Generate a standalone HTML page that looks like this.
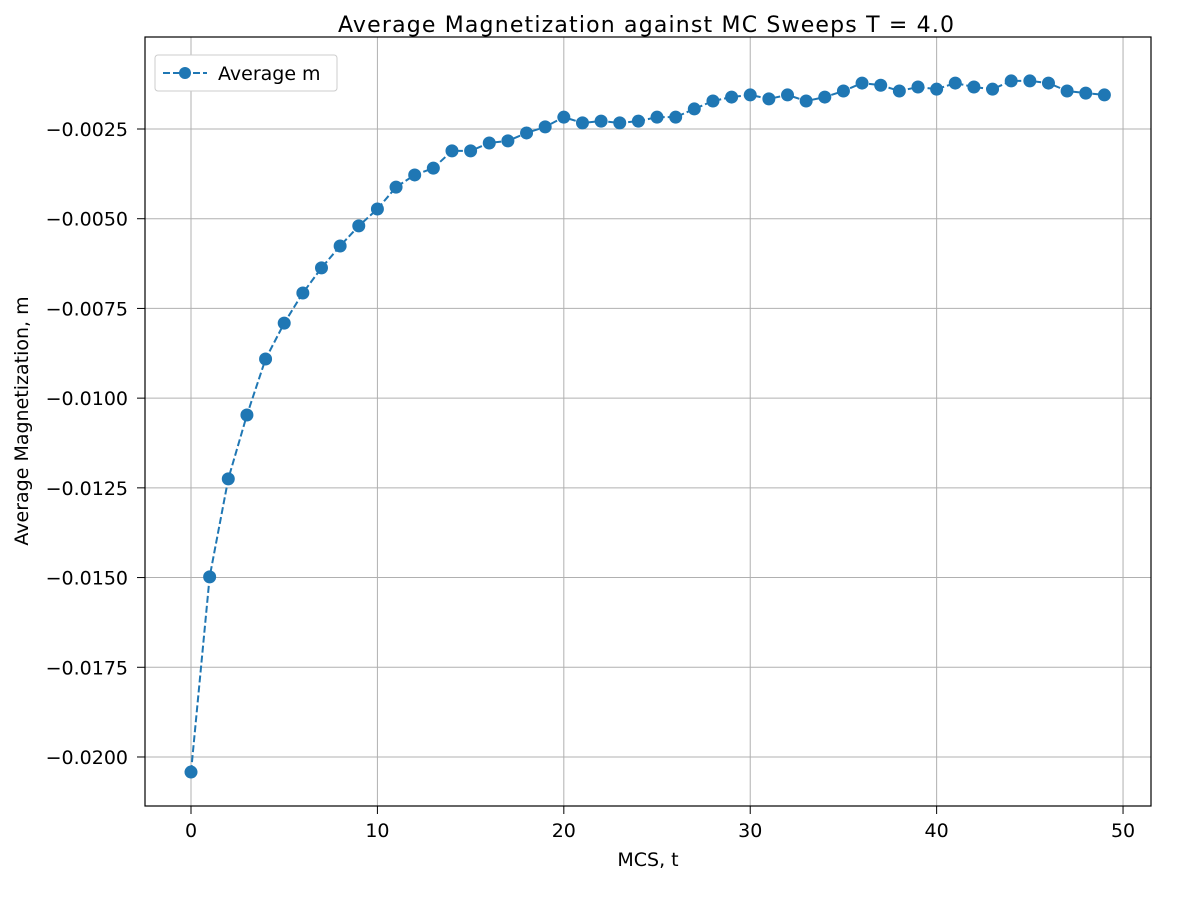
<!DOCTYPE html>
<html><head><meta charset="utf-8"><style>
body{margin:0;background:#fff;}
svg text{font-family:"DejaVu Sans","Liberation Sans",sans-serif;fill:#000;}
</style></head><body>
<svg id="chart" width="1184" height="894">
<text x="646" y="32" font-size="22" text-anchor="middle" textLength="616">Average Magnetization against MC Sweeps T = 4.0</text>
<g id="grid"></g><g id="axes"></g><g id="series"></g>
<rect x="145" y="37" width="1006" height="769" fill="none" stroke="#000" stroke-width="1.2"/>
<text x="648" y="866" font-size="19" text-anchor="middle">MCS, t</text>
<text transform="translate(28,421) rotate(-90)" font-size="19" text-anchor="middle">Average Magnetization, m</text>
<g>
<rect x="155" y="55" width="182" height="36" rx="3" fill="#fff" stroke="#ccc"/>
<line x1="163" y1="73" x2="207" y2="73" stroke="#1f77b4" stroke-width="2" stroke-dasharray="7,3"/>
<circle cx="185" cy="73" r="6" fill="#1f77b4"/>
<text x="218" y="80" font-size="19">Average m</text>
</g>
</svg>
<script>
const xs=[0,1,2,3,4,5,6,7,8,9,10,11,12,13,14,15,16,17,18,19,20,21,22,23,24,25,26,27,28,29,30,31,32,33,34,35,36,37,38,39,40,41,42,43,44,45,46,47,48,49];
const mValues=[-0.02042,-0.01498,-0.01225,-0.01047,-0.00891,-0.00791,-0.00707,-0.00637,-0.00576,-0.00520,-0.00473,-0.00412,-0.00378,-0.00359,-0.00311,-0.00311,-0.00289,-0.00283,-0.00261,-0.00244,-0.00217,-0.00233,-0.00228,-0.00233,-0.00228,-0.00217,-0.00217,-0.00194,-0.00172,-0.00161,-0.00155,-0.00166,-0.00155,-0.00172,-0.00161,-0.00144,-0.00122,-0.00128,-0.00144,-0.00133,-0.00139,-0.00122,-0.00133,-0.00139,-0.00116,-0.00116,-0.00122,-0.00144,-0.00150,-0.00155];
const xTicks=[0,10,20,30,40,50];
const yTicks=[-0.0025,-0.005,-0.0075,-0.01,-0.0125,-0.015,-0.0175,-0.02];
const yTickLabels=["−0.0025","−0.0050","−0.0075","−0.0100","−0.0125","−0.0150","−0.0175","−0.0200"];
const L=145,R=1151,T=37,B=806,X0=-2.468,X1=51.5,Y0=-0.021366,Y1=0.000064;
const sx=v=>L+(v-X0)/(X1-X0)*(R-L);
const sy=v=>B-(v-Y0)/(Y1-Y0)*(B-T);
const NS="http://www.w3.org/2000/svg";
function mk(tag,attrs,parent){const e=document.createElementNS(NS,tag);for(const k in attrs)e.setAttribute(k,attrs[k]);document.getElementById(parent).appendChild(e);return e;}
xTicks.forEach(t=>{const x=sx(t);
let g=mk('line',{x1:x,x2:x,y1:T,y2:B,stroke:'#b0b0b0','stroke-width':1},'grid');


let k=mk('line',{x1:x,x2:x,y1:B,y2:B+8,stroke:'#000'},'axes');


let l=mk('text',{x:x,y:B+31,'font-size':19,'text-anchor':'middle'},'axes');l.textContent=t;

});
yTicks.forEach((t,i)=>{const y=sy(t);
let g=mk('line',{x1:L,x2:R,y1:y,y2:y,stroke:'#b0b0b0','stroke-width':1},'grid');


let k=mk('line',{x1:L-8,x2:L,y1:y,y2:y,stroke:'#000'},'axes');


let l=mk('text',{x:L-17,y:y+7,'font-size':19,'text-anchor':'end'},'axes');l.textContent=yTickLabels[i];

});
const pts=xs.map((x,i)=>sx(x)+','+sy(mValues[i])).join(' ');
let pl=mk('polyline',{points:pts,fill:'none',stroke:'#1f77b4','stroke-width':2,'stroke-dasharray':'7,3'},'series');


xs.forEach((x,i)=>{let c=mk('circle',{cx:sx(x),cy:sy(mValues[i]),r:6.5,fill:'#1f77b4'},'series');

});
</script>
</body></html>
